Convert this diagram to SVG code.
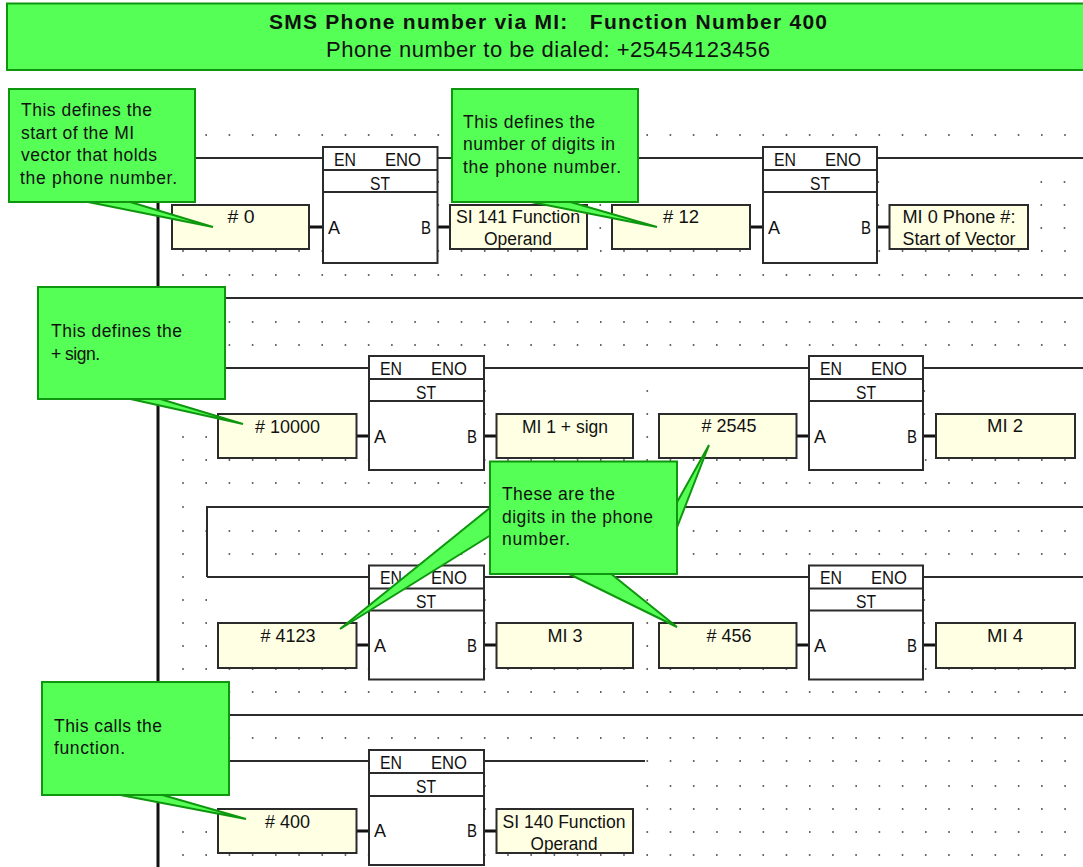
<svg xmlns="http://www.w3.org/2000/svg" width="1083" height="867" viewBox="0 0 1083 867">
<style>
text{font-family:"Liberation Sans",Arial,sans-serif;fill:#111}
.dots{fill:none;stroke:#333;stroke-width:1.6;stroke-dasharray:1.6 21.61}
.wire{fill:none;stroke:#2b2b2b;stroke-width:2}
.rail{fill:none;stroke:#111;stroke-width:3}
.link{fill:none;stroke:#111;stroke-width:3}
.blk{fill:#fff;stroke:#2b2b2b;stroke-width:2}
.sep{fill:none;stroke:#2b2b2b;stroke-width:2}
.op{fill:#ffffe3;stroke:#2b2b2b;stroke-width:2}
.bl{font-size:18px}
.m{text-anchor:middle}
.ot{font-size:18px;text-anchor:middle}
.call{fill:#55ff55;stroke:#0f960f;stroke-width:2}
.ct{font-size:17.500px}
</style>
<defs>
<g id="lab"><text class="bl" x="11" y="18.500" textLength="22" lengthAdjust="spacingAndGlyphs">EN</text><text class="bl" x="62" y="18.500" textLength="36" lengthAdjust="spacingAndGlyphs">ENO</text><text class="bl m" x="57" y="42.500" textLength="20" lengthAdjust="spacingAndGlyphs">ST</text><text class="bl" x="5" y="86.500">A</text><text class="bl" x="98" y="86.500" textLength="10" lengthAdjust="spacingAndGlyphs">B</text></g>
</defs>
<rect width="1083" height="867" fill="#fff"/>
<path class="dots" d="M205.4 135H1067M437.5 182h2M877.5 182h2M1040.5 182H1067M437.5 205h2M599.5 205h2M877.5 205h2M1040.5 205H1067M599.5 228h2M1040.5 228H1067M182.2 251H1067M182.2 275H1067M228.6 322H1067M228.6 345H1067M484.2 391h2M646.5 391h2M923.5 391h2M484.2 414h2M646.5 414h2M923.5 414h2M182.2 437h2M205.4 437h2M646.5 437h2M182.2 460H1067M182.2 483H1067M182.2 507h2M182.2 531h2M205.4 531h2M228.6 531H1067M182.2 554h2M228.6 554H1067M182.2 577h2M182.2 600h2M205.4 600h2M484.2 600h2M646.5 600h2M923.5 600h2M182.2 623h2M205.4 623h2M484.2 623h2M646.5 623h2M923.5 623h2M182.2 646h2M205.4 646h2M646.5 646h2M182.2 669H1067M182.2 692H1067M228.6 738H1067M646.5 761H1067M484.2 786h2M646.5 786H1067M484.2 809h2M646.5 809H1067M182.2 832h2M205.4 832h2M646.5 832H1067M182.2 855H1067"/>

<g id="connectors">
<path class="rail" d="M158 158V867"/>
<path class="wire" d="M158 158H1083M158 298H1083M158 368H1083M207 577V507H1083M207 577H1083M158 715H1083M158 761H645"/>
<path class="link" d="M309 227H323M438 227H450M750 227H763M877 227H889M356 436H369M484 436H496M796 436H809M923 436H936M356 645H369M484 645H496M796 645H809M923 645H936M356 831H369M484 831H496"/>
</g>

<g id="block1" transform="translate(323 147)"><rect class="blk" width="114.500" height="116"/><path class="sep" d="M0 23H114.500M0 45H114.500"/><use href="#lab"/></g>
<g id="block2" transform="translate(763 147)"><rect class="blk" width="114" height="116"/><path class="sep" d="M0 23H114M0 45H114"/><use href="#lab"/></g>
<g id="block3" transform="translate(369 356)"><rect class="blk" width="115" height="114"/><path class="sep" d="M0 23H115M0 45H115"/><use href="#lab"/></g>
<g id="block4" transform="translate(809 356)"><rect class="blk" width="114" height="114"/><path class="sep" d="M0 23H114M0 45H114"/><use href="#lab"/></g>
<g id="block5" transform="translate(369 565.500)"><rect class="blk" width="115" height="114"/><path class="sep" d="M0 23H115M0 45H115"/><use href="#lab"/></g>
<g id="block6" transform="translate(809 565.500)"><rect class="blk" width="114" height="114"/><path class="sep" d="M0 23H114M0 45H114"/><use href="#lab"/></g>
<g id="block7" transform="translate(369 750)"><rect class="blk" width="115" height="115"/><path class="sep" d="M0 23H115M0 46H115"/><use href="#lab"/></g>

<g id="op-0"><rect class="op" x="172" y="205" width="137" height="44"/><text class="ot" x="241" y="223" textLength="27" lengthAdjust="spacingAndGlyphs"># 0</text></g>
<g id="op-si141"><rect class="op" x="450" y="205" width="137" height="44"/><text class="ot" x="518" y="223" textLength="124" lengthAdjust="spacingAndGlyphs">SI 141 Function</text><text class="ot" x="518" y="245" textLength="68" lengthAdjust="spacingAndGlyphs">Operand</text></g>
<g id="op-12"><rect class="op" x="612" y="205" width="138" height="44"/><text class="ot" x="681" y="223" textLength="36" lengthAdjust="spacingAndGlyphs"># 12</text></g>
<g id="op-mi0"><rect class="op" x="889.500" y="205" width="138.500" height="44"/><text class="ot" x="959" y="223" textLength="113" lengthAdjust="spacingAndGlyphs">MI 0 Phone #:</text><text class="ot" x="959" y="245" textLength="113" lengthAdjust="spacingAndGlyphs">Start of Vector</text></g>
<g id="op-10000"><rect class="op" x="218" y="414" width="138.500" height="44"/><text class="ot" x="287.500" y="433" textLength="65" lengthAdjust="spacingAndGlyphs"># 10000</text></g>
<g id="op-mi1"><rect class="op" x="496.500" y="414" width="136.500" height="44"/><text class="ot" x="565" y="433" textLength="86" lengthAdjust="spacingAndGlyphs">MI 1 + sign</text></g>
<g id="op-2545"><rect class="op" x="659" y="414" width="137.500" height="44"/><text class="ot" x="729" y="432" textLength="55" lengthAdjust="spacingAndGlyphs"># 2545</text></g>
<g id="op-mi2"><rect class="op" x="936" y="414" width="139" height="44"/><text class="ot" x="1005" y="432" textLength="36" lengthAdjust="spacingAndGlyphs">MI 2</text></g>
<g id="op-4123"><rect class="op" x="218" y="623" width="138.500" height="45"/><text class="ot" x="288" y="642" textLength="55" lengthAdjust="spacingAndGlyphs"># 4123</text></g>
<g id="op-mi3"><rect class="op" x="496.500" y="623" width="136.500" height="45"/><text class="ot" x="565" y="642" textLength="35" lengthAdjust="spacingAndGlyphs">MI 3</text></g>
<g id="op-456"><rect class="op" x="659" y="623" width="137.500" height="45"/><text class="ot" x="729" y="642" textLength="45" lengthAdjust="spacingAndGlyphs"># 456</text></g>
<g id="op-mi4"><rect class="op" x="936" y="623" width="139" height="45"/><text class="ot" x="1005" y="642" textLength="36" lengthAdjust="spacingAndGlyphs">MI 4</text></g>
<g id="op-400"><rect class="op" x="218" y="809" width="138.500" height="44"/><text class="ot" x="287.500" y="828" textLength="45" lengthAdjust="spacingAndGlyphs"># 400</text></g>
<g id="op-si140"><rect class="op" x="496.500" y="809" width="136.500" height="44"/><text class="ot" x="564" y="828" textLength="123" lengthAdjust="spacingAndGlyphs">SI 140 Function</text><text class="ot" x="564" y="850" textLength="67" lengthAdjust="spacingAndGlyphs">Operand</text></g>

<g id="header"><rect x="7" y="3.500" width="1080" height="66.500" class="call"/><text x="548" y="29" font-size="21" font-weight="700" text-anchor="middle" textLength="558" xml:space="preserve">SMS Phone number via MI:   Function Number 400</text><text x="548" y="57" font-size="22" text-anchor="middle" textLength="444">Phone number to be dialed: +25454123456</text></g>

<g id="note1"><polygon class="call" points="83,201 213,227 127,201"/><rect class="call" x="9" y="89" width="186" height="113"/><text class="ct" x="21" y="116" textLength="131">This defines the</text><text class="ct" x="21" y="139" textLength="113">start of the MI</text><text class="ct" x="21" y="161" textLength="136">vector that holds</text><text class="ct" x="20" y="184" textLength="157">the phone number.</text></g>
<g id="note2"><polygon class="call" points="526,201 657,227 567,201"/><rect class="call" x="452" y="89" width="186" height="113"/><text class="ct" x="463" y="128" textLength="132">This defines the</text><text class="ct" x="463" y="150" textLength="152">number of digits in</text><text class="ct" x="463" y="173" textLength="158">the phone number.</text></g>
<g id="note3"><polygon class="call" points="126,398 243,424 157,398"/><rect class="call" x="38" y="287" width="187" height="112"/><text class="ct" x="51" y="337" textLength="131">This defines the</text><text class="ct" x="51" y="360" textLength="49">+ sign.</text></g>
<g id="note4"><polygon class="call" points="491,507 340,629 491,535"/><polygon class="call" points="676,504 709,445 676,530"/><polygon class="call" points="567,573 677,627 610,573"/><rect class="call" x="490" y="461.500" width="187" height="112.500"/><text class="ct" x="502" y="500" textLength="113">These are the</text><text class="ct" x="502" y="523" textLength="151">digits in the phone</text><text class="ct" x="502" y="545" textLength="68">number.</text></g>
<g id="note5"><polygon class="call" points="115,794 246,819 159,794"/><rect class="call" x="42" y="682" width="187" height="113"/><text class="ct" x="54" y="732" textLength="108">This calls the</text><text class="ct" x="54" y="754" textLength="71">function.</text></g>
</svg>
